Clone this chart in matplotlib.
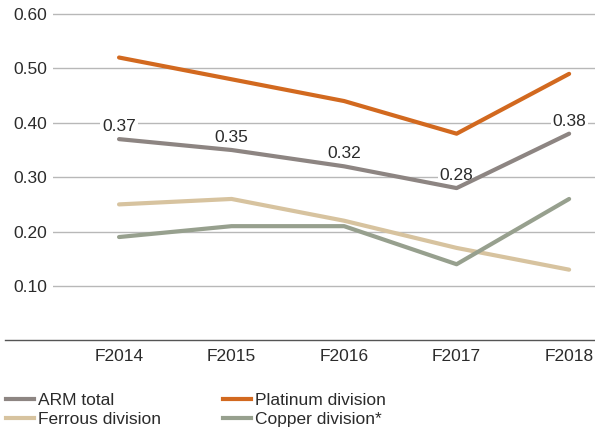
import matplotlib
matplotlib.use("Agg")
import matplotlib.pyplot as plt
from matplotlib.lines import Line2D

plt.rcParams['font.family'] = ['Liberation Sans', 'DejaVu Sans']

years = ["F2014", "F2015", "F2016", "F2017", "F2018"]
arm_total = [0.37, 0.35, 0.32, 0.28, 0.38]
platinum = [0.52, 0.48, 0.44, 0.38, 0.49]
ferrous = [0.25, 0.26, 0.22, 0.17, 0.13]
copper = [0.19, 0.21, 0.21, 0.14, 0.26]
yticks = [0.10, 0.20, 0.30, 0.40, 0.50, 0.60]

c_arm = "#8d8582"
c_plat = "#d2691f"
c_fer = "#d7c39f"
c_cop = "#97a08e"
text_c = "#2b2b2b"
fs = 12.5

W, H = 595, 432
fig = plt.figure(figsize=(W / 100, H / 100), dpi=100)
x0 = 53 / W
y_zero = 340.4
ax = fig.add_axes([x0, (H - y_zero) / H, 1 - x0, y_zero / H])

xs = list(range(len(years)))
lw = 3.0
ax.plot(xs, ferrous, color=c_fer, lw=lw, solid_capstyle='round', zorder=3)
ax.plot(xs, copper, color=c_cop, lw=lw, solid_capstyle='round', zorder=3)
ax.plot(xs, arm_total, color=c_arm, lw=lw, solid_capstyle='round', zorder=4)
ax.plot(xs, platinum, color=c_plat, lw=lw, solid_capstyle='round', zorder=4)

for x, v in zip(xs, arm_total):
    ax.annotate(f"{v:.2f}", (x, v), xytext=(0, 3.5), textcoords='offset points',
                ha='center', va='bottom', fontsize=fs, color=text_c, zorder=2.5,
                bbox=dict(boxstyle='square,pad=0.1', fc='white', ec='none'))

ax.set_xlim(-0.587, 4.23)
ax.set_ylim(0, y_zero / 544)
ax.set_yticks(yticks)
ax.set_yticklabels([f"{t:.2f}" for t in yticks])
ax.set_xticks(xs)
ax.set_xticklabels(years)
ax.tick_params(axis='both', length=0, labelsize=fs, colors=text_c)
ax.tick_params(axis='y', pad=4)
ax.tick_params(axis='x', pad=6)
ax.grid(axis='y', color='#b8b8b8', lw=1.0, zorder=1)
ax.set_axisbelow(True)
for s in ax.spines.values():
    s.set_visible(False)

# baseline extends past the plot area on the left
fig.add_artist(Line2D([5 / W, 1.0], [(H - y_zero) / H] * 2, color='#555555', lw=1.0))

# legend: two columns, two rows
entries = [("ARM total", c_arm, 6, 399), ("Ferrous division", c_fer, 6, 418),
           ("Platinum division", c_plat, 223, 399), ("Copper division*", c_cop, 223, 418)]
for label, col, px, py in entries:
    yy = 1 - py / H
    fig.add_artist(Line2D([px / W, (px + 28) / W], [yy, yy], color=col, lw=lw))
    fig.text((px + 32) / W, yy, label, fontsize=fs, color=text_c,
             ha='left', va='center_baseline')

fig.savefig("out.png", dpi=100)
